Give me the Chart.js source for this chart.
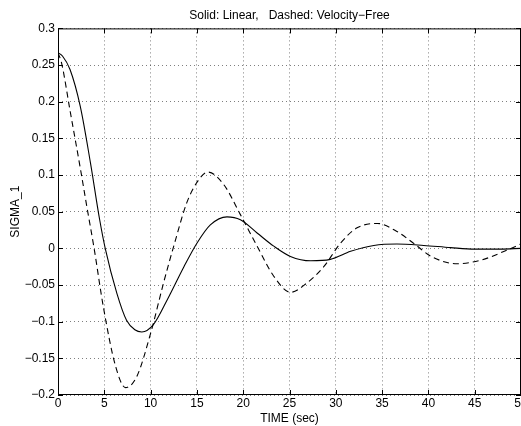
<!DOCTYPE html>
<html>
<head>
<meta charset="utf-8">
<script src="https://cdn.jsdelivr.net/npm/chart.js@4.4.1/dist/chart.umd.min.js"></script>
<style>
  html, body { margin: 0; padding: 0; background: #fff; overflow: hidden; }
  #wrap { width: 521px; height: 426px; }
</style>
</head>
<body>
<div id="wrap"><canvas id="chartCanvas"></canvas></div>
<script>
// time samples and values
const linearT = [0, 0.5, 1.3, 2.4, 3.5, 4.5, 5.1, 6.35, 7.4, 8.3, 9.05, 10.3, 11.8, 13.6, 15, 16.45, 18.25, 19.7, 21.5, 23.3, 25.1, 27.3, 29.4, 31.6, 34.1, 36.6, 39.5, 42.4, 45, 47.8, 50];
const linearV = [0.267, 0.262, 0.244, 0.194, 0.117, 0.039, 0.0, -0.061, -0.098, -0.111, -0.114, -0.104, -0.070, -0.025, 0.007, 0.032, 0.043, 0.039, 0.021, 0.003, -0.011, -0.017, -0.015, -0.004, 0.004, 0.006, 0.004, 0.001, -0.001, -0.001, 0.000];

const velFreeT = [0, 0.4, 1.3, 2.4, 3.1, 3.9, 4.9, 6.2, 7.3, 8.5, 10, 11.4, 12.7, 13.9, 15, 16.2, 17.9, 19.7, 21.5, 23.3, 25.1, 26.9, 28.7, 30.5, 32.3, 34.5, 36.6, 38.5, 40.3, 43.1, 45.7, 48.2, 50];
const velFreeV = [0.267, 0.252, 0.188, 0.110, 0.058, 0.0, -0.080, -0.160, -0.190, -0.175, -0.116, -0.047, 0.012, 0.062, 0.090, 0.104, 0.087, 0.046, 0.003, -0.038, -0.060, -0.047, -0.025, 0.007, 0.028, 0.034, 0.023, 0.006, -0.011, -0.021, -0.016, -0.004, 0.006];

const xTicks = [0, 5, 10, 15, 20, 25, 30, 35, 40, 45, 50];
const yTicks = [-0.2, -0.15, -0.1, -0.05, 0, 0.05, 0.1, 0.15, 0.2, 0.25, 0.3];

const FONT = 'Liberation Sans, Arial, Helvetica, sans-serif';

function pts(ts, vs) {
  return ts.map((t, i) => ({ x: t, y: vs[i] }));
}

function fmt(v) {
  const r = Math.round(v * 100) / 100;
  return String(r).replace('-', '\u2212');
}

// axes box with inward ticks, matlab style
const boxPlugin = {
  id: 'boxPlugin',
  afterDraw(chart) {
    const { ctx, chartArea: a, scales } = chart;
    ctx.save();
    ctx.strokeStyle = '#000';
    ctx.lineWidth = 1;
    ctx.strokeRect(a.left + 0.5, a.top + 0.5, a.right - a.left - 1, a.bottom - a.top - 1);
    ctx.beginPath();
    xTicks.forEach(v => {
      const px = Math.round(scales.x.getPixelForValue(v)) + 0.5;
      ctx.moveTo(px, a.bottom); ctx.lineTo(px, a.bottom - 5);
      ctx.moveTo(px, a.top); ctx.lineTo(px, a.top + 5);
    });
    yTicks.forEach(v => {
      const py = Math.round(scales.y.getPixelForValue(v)) + 0.5;
      ctx.moveTo(a.left, py); ctx.lineTo(a.left + 5, py);
      ctx.moveTo(a.right, py); ctx.lineTo(a.right - 5, py);
    });
    ctx.stroke();
    ctx.restore();
  }
};

new Chart(document.getElementById('chartCanvas'), {
  type: 'line',
  data: {
    datasets: [
      {
        label: 'Linear',
        data: pts(linearT, linearV),
        borderColor: '#000',
        borderWidth: 1.1,
        pointRadius: 0,
        cubicInterpolationMode: 'monotone',
        fill: false
      },
      {
        label: 'Velocity-Free',
        data: pts(velFreeT, velFreeV),
        borderColor: '#000',
        borderWidth: 1.1,
        borderDash: [6, 4],
        pointRadius: 0,
        cubicInterpolationMode: 'monotone',
        fill: false
      }
    ]
  },
  options: {
    responsive: true,
    maintainAspectRatio: false,
    animation: false,
    layout: { padding: 0 },
    plugins: {
      legend: { display: false },
      tooltip: { enabled: false },
      title: {
        display: true,
        fullSize: false,
        text: 'Solid: Linear,   Dashed: Velocity\u2212Free',
        color: '#000',
        font: { family: FONT, size: 12, weight: 'normal' },
        padding: { top: 8, bottom: 6 }
      }
    },
    scales: {
      x: {
        type: 'linear',
        min: 0,
        max: 50,
        afterBuildTicks(scale) { scale.ticks = xTicks.map(v => ({ value: v })); },
        afterFit(scale) { scale.height = 31; scale.paddingRight = 0; },
        ticks: {
          color: '#000',
          padding: 1,
          maxRotation: 0,
          font: { family: FONT, size: 12 },
          callback: v => fmt(v)
        },
        grid: { color: 'rgba(0,0,0,0.5)', lineWidth: 1, drawTicks: false },
        border: { display: false, dash: [1, 3] },
        title: {
          display: true,
          text: 'TIME (sec)',
          color: '#000',
          padding: 0,
          font: { family: FONT, size: 12 }
        }
      },
      y: {
        type: 'linear',
        min: -0.2,
        max: 0.3,
        afterBuildTicks(scale) { scale.ticks = yTicks.map(v => ({ value: v })); },
        afterFit(scale) { scale.width = 58; },
        ticks: {
          color: '#000',
          padding: 3,
          font: { family: FONT, size: 12 },
          callback: v => fmt(v)
        },
        grid: { color: 'rgba(0,0,0,0.5)', lineWidth: 1, drawTicks: false },
        border: { display: false, dash: [1, 3] },
        title: {
          display: true,
          text: 'SIGMA_1',
          color: '#000',
          padding: { top: 8, bottom: 0 },
          font: { family: FONT, size: 12 }
        }
      }
    }
  },
  plugins: [boxPlugin]
});
</script>
</body>
</html>
